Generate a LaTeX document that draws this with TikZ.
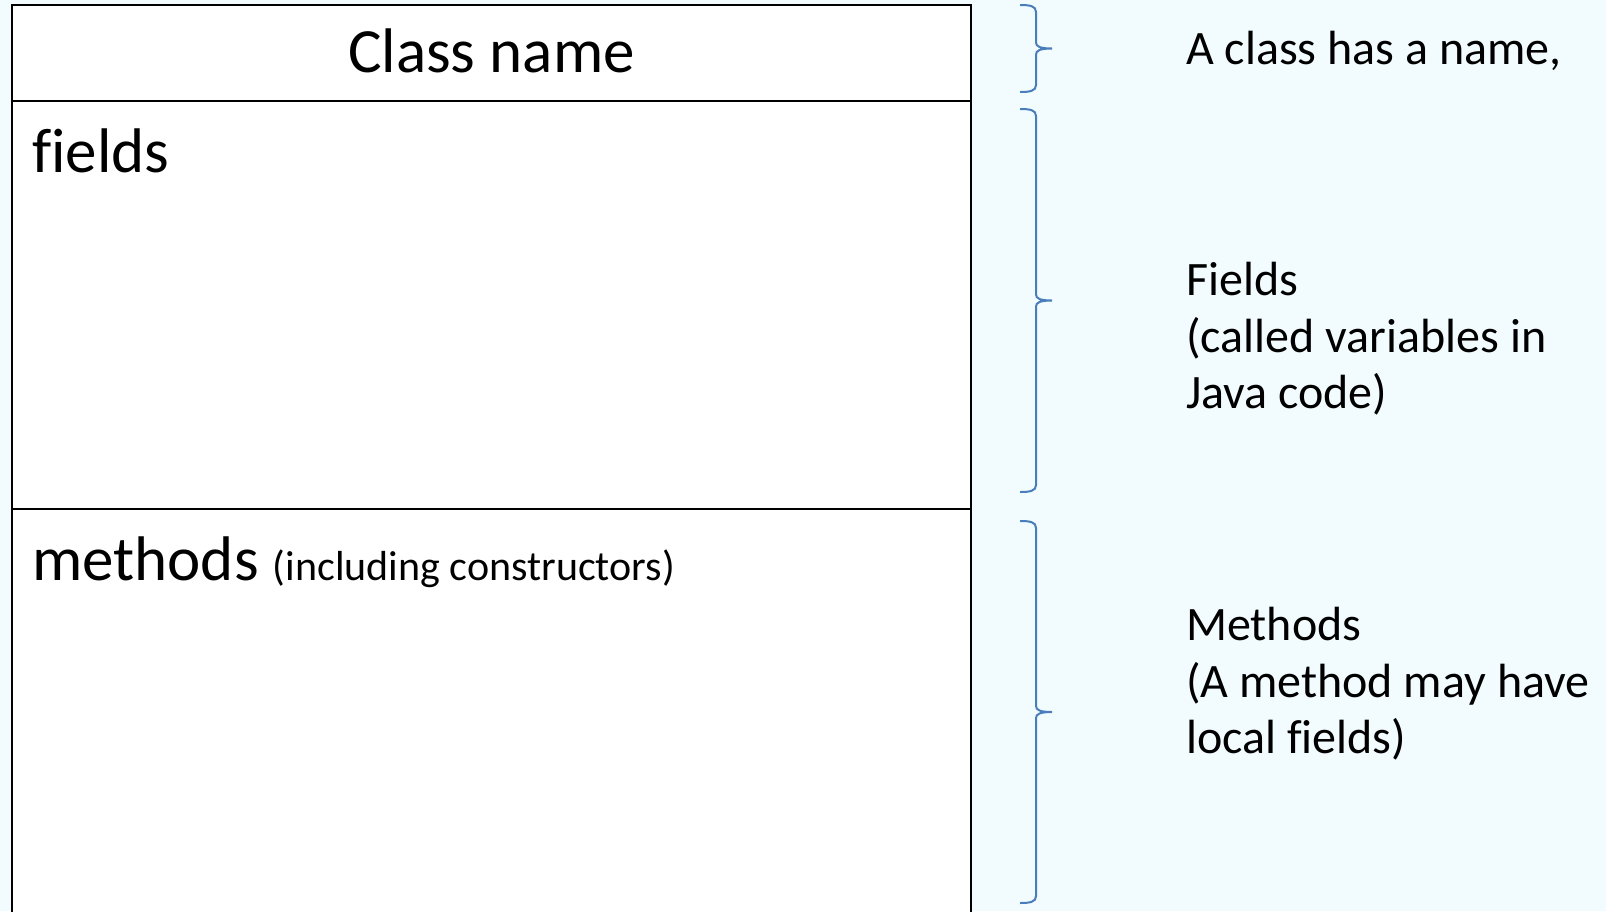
\documentclass[tikz,border=0pt]{standalone}
\usepackage{fontspec}
\setmainfont{Carlito}[Ligatures=NoCommon]
\definecolor{bgcol}{HTML}{F2FBFE}
\definecolor{bracecol}{HTML}{4A7EBB}
\tikzset{
  boxline/.style={draw=black, line width=2.4pt},
  bracestyle/.style={draw=bracecol, line width=2pt},
  bigtext/.style={anchor=base west, inner sep=0pt, font=\fontsize{63}{70}\selectfont},
  notetext/.style={anchor=base west, inner sep=0pt, font=\fontsize{48}{56}\selectfont},
}
\newcommand\mybrace[3]{% x, top, bottom
  \pgfmathsetmacro\bmid{(#2+#3)/2}
  \draw[bracestyle] (#1-16,#2) .. controls (#1-6,#2) and (#1,#2+1) .. (#1,#2+7)
    -- (#1,\bmid-6) .. controls (#1,\bmid-2) and (#1+4,\bmid) .. (#1+16,\bmid)
    .. controls (#1+4,\bmid) and (#1,\bmid+2) .. (#1,\bmid+6)
    -- (#1,#3-7) .. controls (#1,#3-1) and (#1-6,#3) .. (#1-16,#3);
}
\begin{document}
\begin{tikzpicture}[x=1pt, y=-1pt]
  \fill[bgcol] (0,0) rectangle (1606,911);
  \useasboundingbox (0,0) rectangle (1606,911);
  % class box
  \fill[white] (12,5) rectangle (971,912);
  \draw[boxline] (12,915) -- (12,5) -- (971,5) -- (971,915);
  \draw[boxline] (12,101) -- (971,101);
  \draw[boxline] (12,509) -- (971,509);
  \node[anchor=base, inner sep=0pt, font=\fontsize{63}{70}\selectfont] (cname) at (491.5,72.5) {Class name};
  \node[bigtext] (fields) at (32,172) {fields};
  \node[bigtext] (methods) at (32,580) {methods \fontsize{42}{48}\selectfont(including constructors)};
  % braces
  \mybrace{1036}{5}{92}
  \mybrace{1036}{109}{492}
  \mybrace{1036}{521}{903}
  % notes
  \node[notetext] (n1) at (1186,64) {A class has a name,};
  \node[notetext] (n2a) at (1186,295) {Fields};
  \node[notetext] (n2b) at (1186,352) {(called variables in};
  \node[notetext] (n2c) at (1186,408) {Java code)};
  \node[notetext] (n3a) at (1186,640) {Methods};
  \node[notetext] (n3b) at (1186,697) {(A method may have};
  \node[notetext] (n3c) at (1186,753) {local fields)};
\end{tikzpicture}
\end{document}
